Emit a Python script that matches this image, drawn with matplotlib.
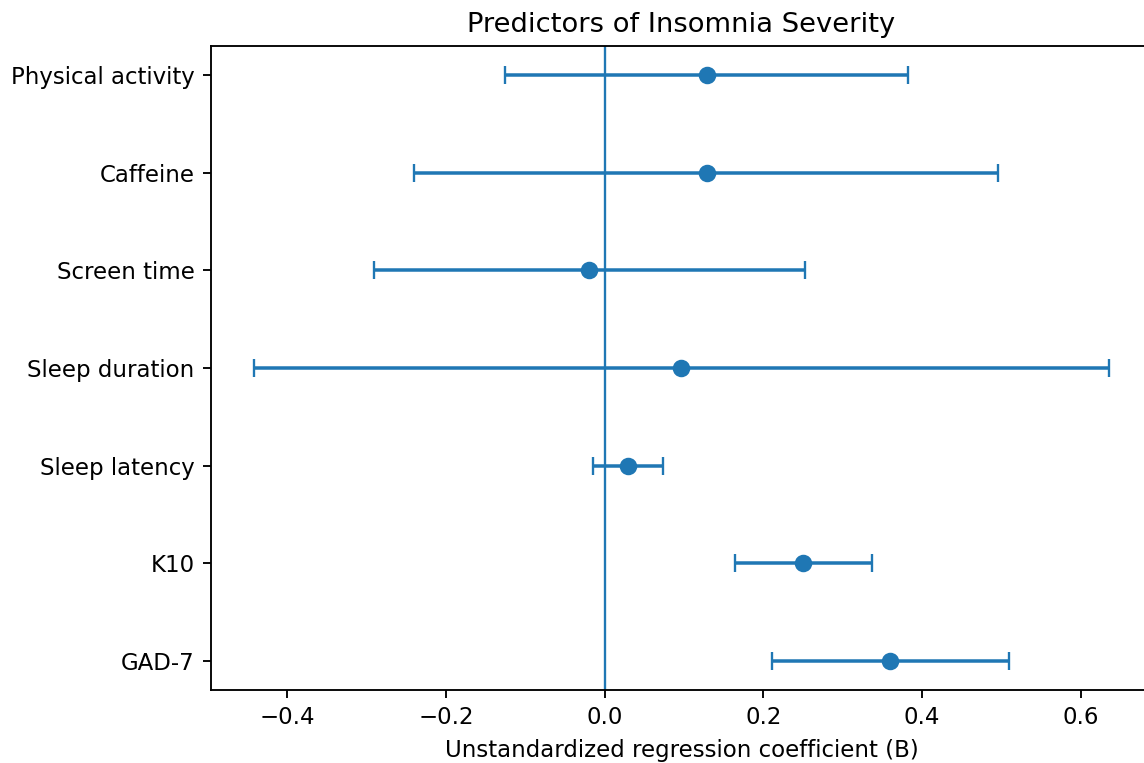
import matplotlib
matplotlib.use('Agg')
import matplotlib.pyplot as plt

# predictors, top to bottom as drawn
predictors = ['Physical activity', 'Caffeine', 'Screen time', 'Sleep duration',
              'Sleep latency', 'K10', 'GAD-7']
coef  = [0.129, 0.129, -0.020, 0.096, 0.030, 0.250, 0.360]
lower = [-0.125, -0.240, -0.291, -0.442, -0.015, 0.164, 0.211]
upper = [0.382, 0.496, 0.252, 0.636, 0.074, 0.337, 0.510]

plt.rcParams['font.size'] = 9.8

n = len(predictors)
ypos = [n - 1 - i for i in range(n)]
err_lo = [c - l for c, l in zip(coef, lower)]
err_hi = [u - c for c, u in zip(coef, upper)]

fig = plt.figure(figsize=(1144/168, 763/168), dpi=168)
ax = fig.add_axes([211/1144, 73/763, 941/1144, 644/763])
ax.errorbar(coef, ypos, xerr=[err_lo, err_hi], fmt='o', color='#1f77b4',
            markersize=6.5, capsize=4, elinewidth=1.5)
ax.axvline(0, color='#1f77b4', linewidth=1)
ax.set_yticks(ypos)
ax.set_yticklabels(predictors)
ax.set_xlabel('Unstandardized regression coefficient (B)')
ax.set_title('Predictors of Insomnia Severity')
fig.savefig('out.png', dpi=168)
